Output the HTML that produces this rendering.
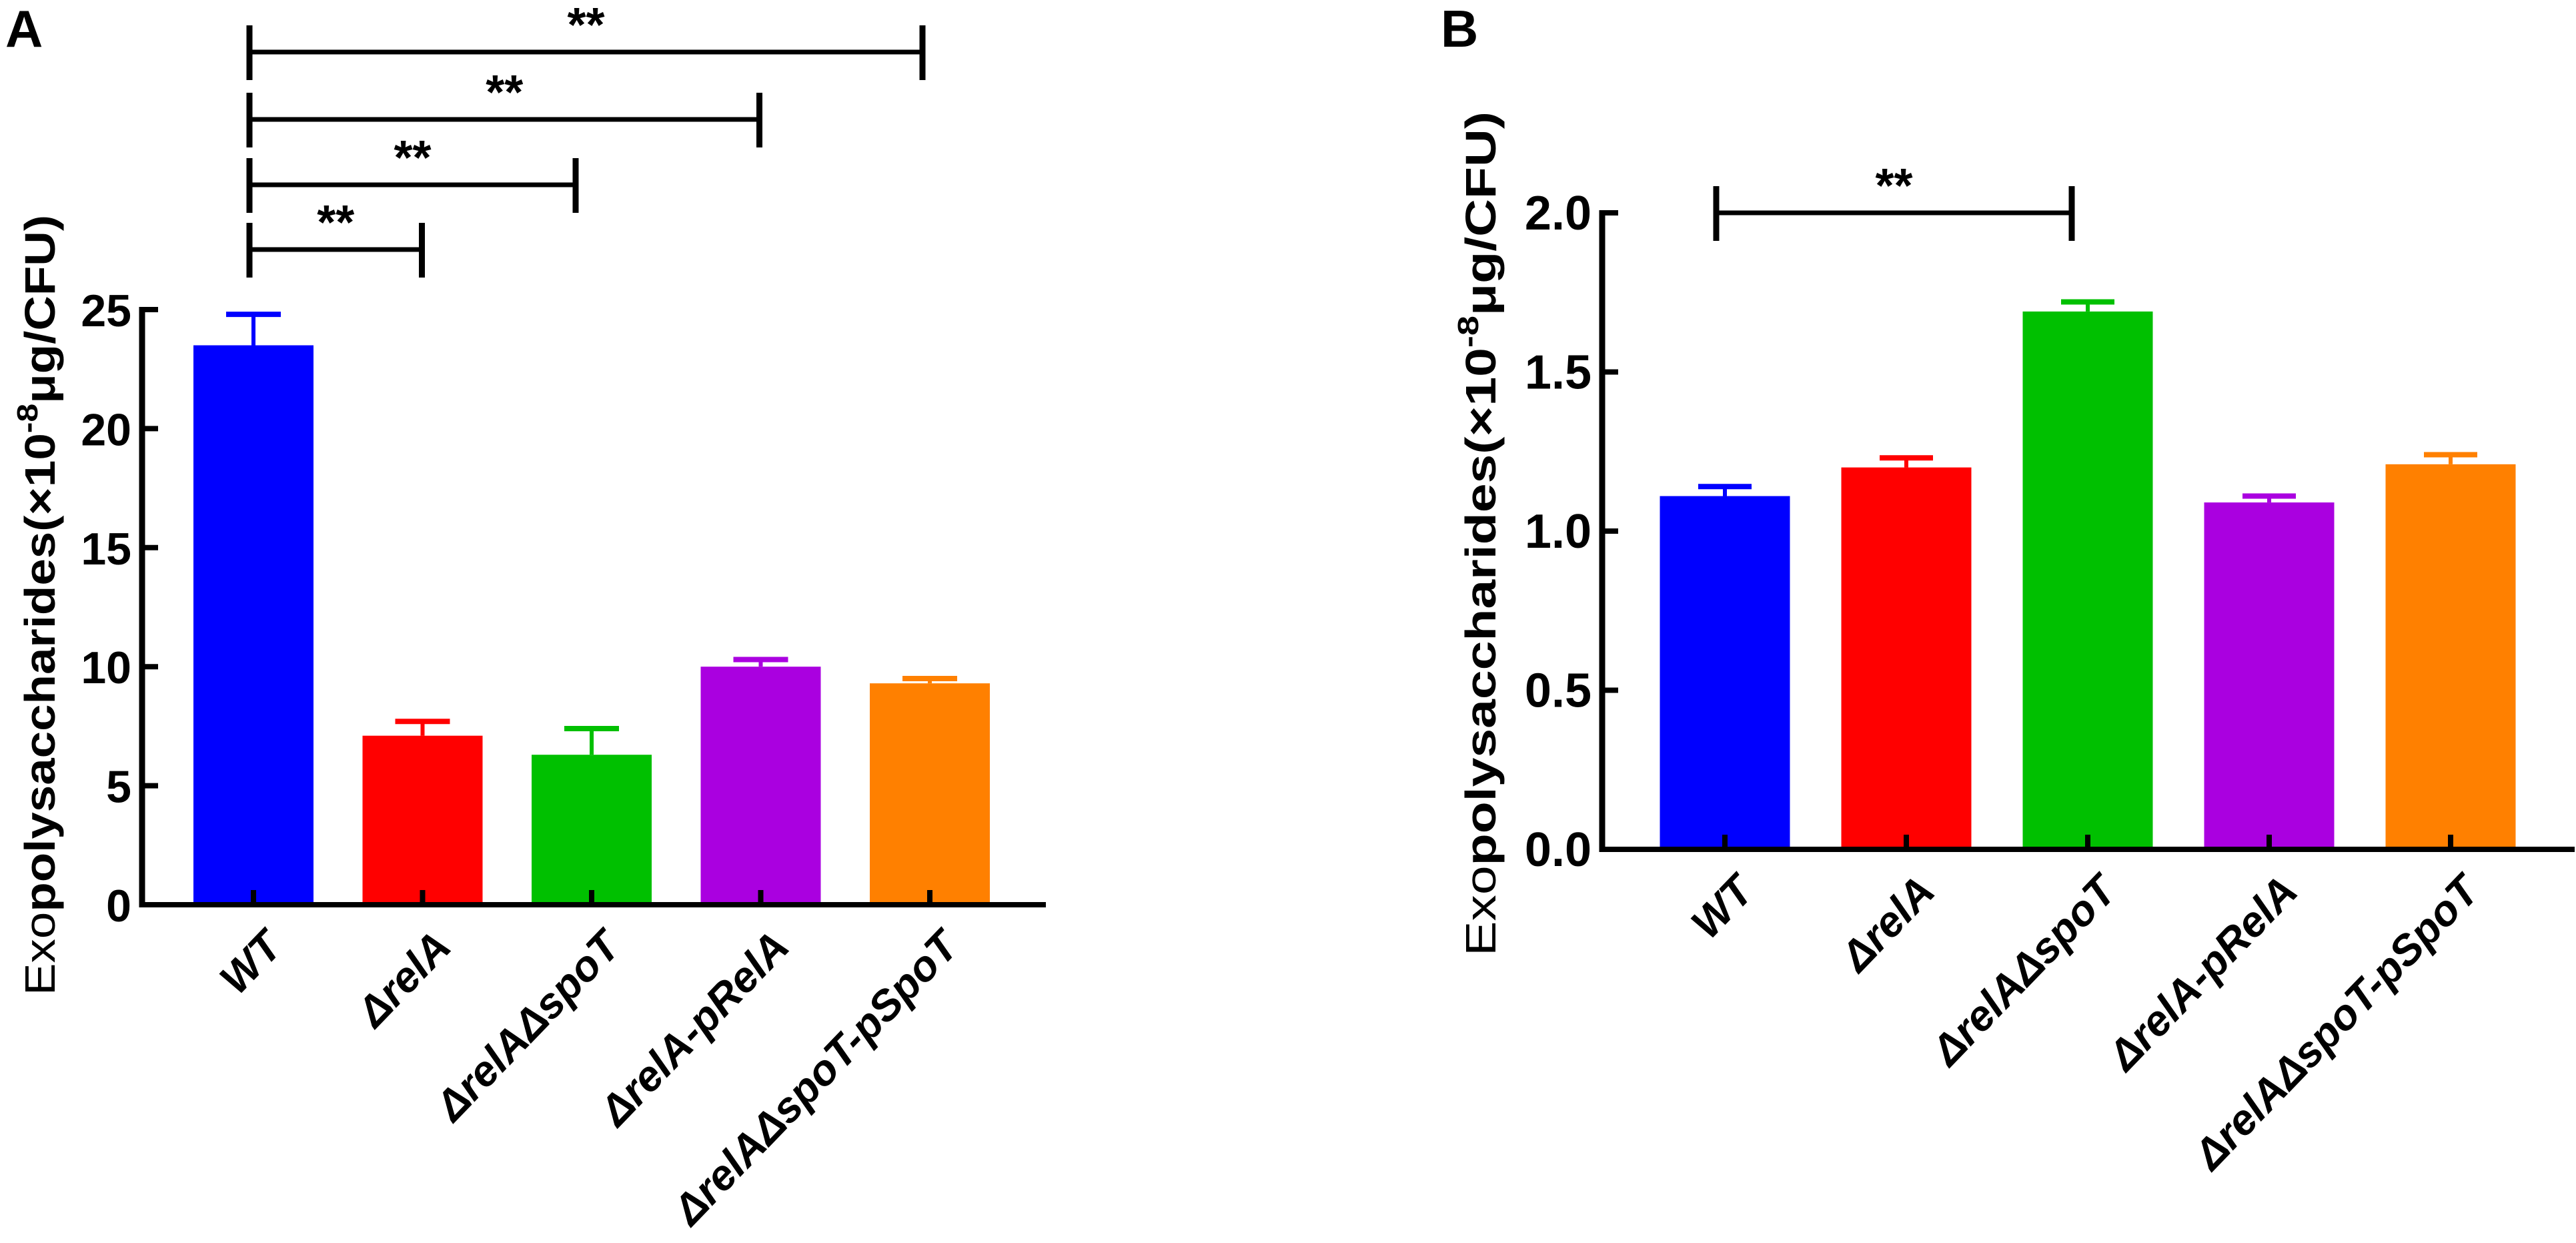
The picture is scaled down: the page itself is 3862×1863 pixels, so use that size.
<!DOCTYPE html>
<html>
<head>
<meta charset="utf-8">
<style>
html,body{margin:0;padding:0;background:#fff;}
svg{display:block;font-family:"Liberation Sans",Arial,sans-serif;}
</style>
</head>
<body>
<svg id="fig" width="3862" height="1863" viewBox="0 0 3862 1863" xmlns="http://www.w3.org/2000/svg">
  <rect x="0" y="0" width="3862" height="1863" fill="#fff"/>
  <text x="8" y="70" font-size="78" font-weight="bold">A</text>
  <text x="2160" y="70" font-size="78" font-weight="bold">B</text>
  <g id="panelA"></g>
  <g id="panelB"></g>
</svg>
<script>
// ---- Data ----
const categories = ["WT", "\u0394relA", "\u0394relA\u0394spoT", "\u0394relA-pRelA", "\u0394relA\u0394spoT-pSpoT"];
const colors = ["#0000ff", "#ff0000", "#00c000", "#aa00e0", "#ff8000"];
const valuesA = [23.5, 7.1, 6.3, 10.0, 9.3];
const errorsA = [1.3, 0.6, 1.1, 0.3, 0.2];
const ticksA = [0, 5, 10, 15, 20, 25];
const tickLabelsA = ["0", "5", "10", "15", "20", "25"];
const valuesB = [1.11, 1.20, 1.69, 1.09, 1.21];
const errorsB = [0.03, 0.03, 0.03, 0.02, 0.03];
const ticksB = [0, 0.5, 1.0, 1.5, 2.0];
const tickLabelsB = ["0.0", "0.5", "1.0", "1.5", "2.0"];
// significance comparisons: [fromIndex, toIndex, label]
const sigA = [[0, 4, "**"], [0, 3, "**"], [0, 2, "**"], [0, 1, "**"]];
const sigB = [[0, 2, "**"]];

const NS = "http://www.w3.org/2000/svg";
function mk(parent, tag, attrs) {
  const e = document.createElementNS(NS, tag);
  for (const k in attrs) e.setAttribute(k, attrs[k]);
  parent.appendChild(e);
  return e;
}

function drawPanel(g, cfg) {
  const yScale = v => cfg.y0 - (v - cfg.ymin) / (cfg.ymax - cfg.ymin) * (cfg.y0 - cfg.yTop);
  const xCenter = i => cfg.firstCenter + i * cfg.step;

  cfg.values.forEach((v, i) => {
    const cx = xCenter(i);
    const top = yScale(v);
    const bar = mk(g, "rect", {x: cx - cfg.barW / 2, y: top, width: cfg.barW, height: cfg.y0 - top, fill: colors[i]});
    
    
    const eTop = yScale(v + cfg.errors[i]);
    const ev = mk(g, "line", {x1: cx, x2: cx, y1: top, y2: eTop, stroke: colors[i], "stroke-width": 6});
    
    
    const ec = mk(g, "line", {x1: cx - cfg.capW / 2, x2: cx + cfg.capW / 2, y1: eTop, y2: eTop, stroke: colors[i], "stroke-width": 8});
    
    
  });

  const yAxis = mk(g, "line", {x1: cfg.axisX, x2: cfg.axisX, y1: yScale(cfg.ymax) - 4, y2: cfg.y0 + 4, stroke: "#000", "stroke-width": 9});
  
  
  const xAxis = mk(g, "line", {x1: cfg.axisX - 4, x2: cfg.axisRight, y1: cfg.y0, y2: cfg.y0, stroke: "#000", "stroke-width": 8});
  
  

  cfg.ticks.forEach((t, i) => {
    const y = yScale(t);
    if (i > 0) {
      const tk = mk(g, "line", {x1: cfg.axisX, x2: cfg.axisX + 24, y1: y, y2: y, stroke: "#000", "stroke-width": 8});
      
      
    }
    const lb = mk(g, "text", {x: cfg.axisX - 16, y: y + 25, "font-size": cfg.tickFont, "font-weight": "bold", "text-anchor": "end"});
    lb.textContent = cfg.tickLabels[i];
    
    
  });

  categories.forEach((c, i) => {
    const cx = xCenter(i);
    const tk = mk(g, "line", {x1: cx, x2: cx, y1: cfg.y0, y2: cfg.y0 - 22, stroke: "#000", "stroke-width": 8});
    
    
    const ax = cx + 46, ay = cfg.y0 + 66;
    const lb = mk(g, "text", {x: ax, y: ay, "font-size": cfg.labelFont, "font-weight": "bold", "font-style": "italic", "text-anchor": "end", transform: "rotate(-46 " + ax + " " + ay + ")"});
    lb.textContent = c;
    
    
  });

  const tx = cfg.titleX, ty = cfg.titleY;
  const title = mk(g, "text", {x: tx, y: ty, "font-size": 64, "font-weight": "bold", "text-anchor": "middle", transform: "rotate(-90 " + tx + " " + ty + ")", textLength: cfg.titleLen, lengthAdjust: "spacingAndGlyphs"});
  
  
  const t1 = mk(title, "tspan", {"font-weight": "normal"}); t1.textContent = "Exo";
  const t2 = mk(title, "tspan", {}); t2.textContent = "polysaccharides(\u00d710";
  const t3 = mk(title, "tspan", {dy: -26, "font-size": 44}); t3.textContent = "-8";
  const t4 = mk(title, "tspan", {dy: 26}); t4.textContent = "\u03bcg/CFU)";

  cfg.sig.forEach((s, k) => {
    const y = cfg.sigY[k];
    const xa = cfg.sigX0, xb = xCenter(s[1]) + cfg.sigEndShift[k];
    const sg = mk(g, "g", {});
    
    
    mk(sg, "line", {x1: xa, x2: xb, y1: y, y2: y, stroke: "#000", "stroke-width": 7});
    mk(sg, "line", {x1: xa, x2: xa, y1: y - 40, y2: y + 42, stroke: "#000", "stroke-width": 9});
    mk(sg, "line", {x1: xb, x2: xb, y1: y - 40, y2: y + 42, stroke: "#000", "stroke-width": 9});
    const st = mk(sg, "text", {x: (xa + xb) / 2, y: y - 16, "font-size": 72, "font-weight": "bold", "text-anchor": "middle"});
    st.textContent = s[2];
  });
}

drawPanel(document.getElementById("panelA"), {
  values: valuesA, errors: errorsA, ticks: ticksA, tickLabels: tickLabelsA,
  ymin: 0, ymax: 25, y0: 1356, yTop: 464,
  axisX: 213, axisRight: 1568, firstCenter: 380, step: 253.5, barW: 180, capW: 82,
  tickFont: 68, labelFont: 64, titleX: 82, titleY: 907, titleLen: 1170,
  sig: sigA, sigY: [78, 179, 277, 374], sigX0: 374, sigEndShift: [-11, -2, -24, -1]
});

drawPanel(document.getElementById("panelB"), {
  values: valuesB, errors: errorsB, ticks: ticksB, tickLabels: tickLabelsB,
  ymin: 0, ymax: 2.0, y0: 1273, yTop: 319,
  axisX: 2402, axisRight: 3860, firstCenter: 2586, step: 272, barW: 195, capW: 80,
  tickFont: 72, labelFont: 64, titleX: 2242, titleY: 800, titleLen: 1266,
  sig: sigB, sigY: [319], sigX0: 2573, sigEndShift: [-24]
});
</script>
</body>
</html>
